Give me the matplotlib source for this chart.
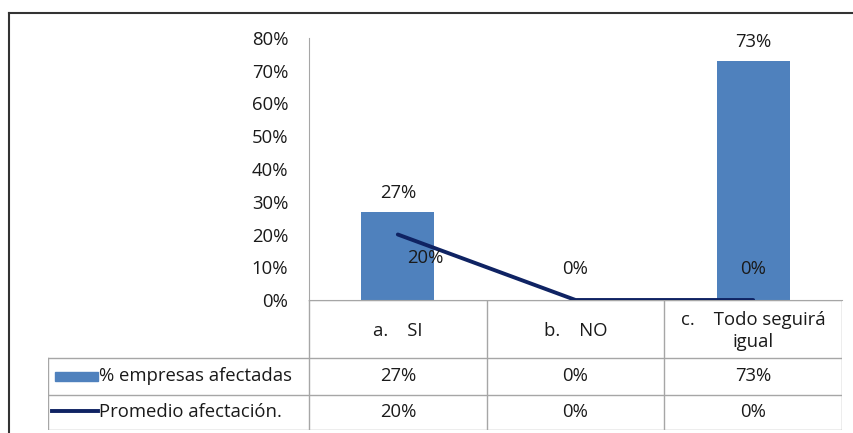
import matplotlib.pyplot as plt
from matplotlib.lines import Line2D
from matplotlib.patches import Rectangle

############################
# Data
############################

categories = ["a.    SI", "b.    NO", "c.    Todo seguirá\nigual"]
pct_empresas = [27, 0, 73]
promedio_afect = [20, 0, 0]
series_names = ["% empresas afectadas", "Promedio afectación."]
y_ticks = [0, 10, 20, 30, 40, 50, 60, 70, 80]

BAR_BLUE = "#4F81BD"
NAVY = "#0F2363"
GRID = "#A6A6A6"
TXT = "#1A1A1A"
FS = 13.3

W, H = 854, 433

plt.rcParams["font.family"] = ["Open Sans", "DejaVu Sans"]

fig = plt.figure(figsize=(W / 100, H / 100), dpi=100)


def px_rect(x0, y0, x1, y1):
    # pixel box (top-left origin) -> figure fraction
    return [x0 / W, 1 - y1 / H, (x1 - x0) / W, (y1 - y0) / H]


# outer frame (top + left)
fig.add_artist(Line2D([9 / W, 1], [1 - 13 / H, 1 - 13 / H], color="#333333", lw=1.5))
fig.add_artist(Line2D([9 / W, 9 / W], [0, 1 - 13 / H], color="#333333", lw=1.5))

############################
# Chart area
############################

ax = fig.add_axes(px_rect(309, 38, 842, 300))
x = list(range(len(categories)))

ax.bar(x, pct_empresas, width=0.41, color=BAR_BLUE, zorder=2)
ax.plot(x, promedio_afect, color=NAVY, lw=2.8, solid_capstyle="round", zorder=3)

ax.set_xlim(-0.5, 2.5)
ax.set_ylim(0, 80)
ax.set_yticks(y_ticks)
ax.set_yticklabels([f"{v}%" for v in y_ticks], fontsize=FS, color=TXT)
ax.tick_params(axis="y", length=0, pad=15)
ax.set_xticks([])

for s in ["top", "right"]:
    ax.spines[s].set_visible(False)
ax.spines["left"].set_color(GRID)
ax.spines["bottom"].set_color(GRID)

# data labels
for xi, v in zip(x, pct_empresas):
    if v > 0:
        ax.annotate(f"{v}%", (xi, v), xytext=(0, 7), textcoords="offset points",
                    ha="center", va="bottom", fontsize=FS, color=TXT)
ax.annotate(f"{promedio_afect[0]}%", (x[0], promedio_afect[0]), xytext=(20, -17),
            textcoords="offset points", ha="center", va="center", fontsize=FS, color=TXT, zorder=4)
for xi, v in zip(x[1:], promedio_afect[1:]):
    ax.annotate(f"{v}%", (xi, v), xytext=(0, 22), textcoords="offset points",
                ha="center", va="center", fontsize=FS, color=TXT)

############################
# Data table
############################

left_px = 48
unit = (842 - 309) / 3
tx0 = -0.5 - (309 - left_px) / unit

tab = fig.add_axes(px_rect(left_px, 300, 842, 430))
tab.set_xlim(tx0, 2.5)
tab.set_ylim(430, 300)
tab.axis("off")

row_tops = [300, 358, 395, 430]
# horizontal lines
tab.plot([-0.5, 2.5], [300, 300], color=GRID, lw=1)
for yy in row_tops[1:]:
    tab.plot([tx0, 2.5], [yy, yy], color=GRID, lw=1)
# vertical lines
for xv in [-0.5, 0.5, 1.5, 2.5]:
    tab.plot([xv, xv], [300, 430], color=GRID, lw=1)
tab.plot([tx0, tx0], [358, 430], color=GRID, lw=1)

for xi, cat in zip(x, categories):
    tab.text(xi, 331, cat, ha="center", va="center", fontsize=FS, color=TXT, linespacing=1.25)

for vals, yc in [(pct_empresas, 376.5), (promedio_afect, 412)]:
    for xi, v in zip(x, vals):
        tab.text(xi, yc, f"{v}%", ha="center", va="center", fontsize=FS, color=TXT)

# legend keys inside table
kx0 = tx0 + (55 - left_px) / unit
kx1 = tx0 + (98 - left_px) / unit
tab.add_patch(Rectangle((kx0, 372), kx1 - kx0, 9, color=BAR_BLUE))
tab.plot([tx0 + (52 - left_px) / unit, kx1], [411, 411], color=NAVY, lw=2.8)
tab.text(tx0 + (99 - left_px) / unit, 376.5, series_names[0], ha="left", va="center",
         fontsize=FS, color=TXT)
tab.text(tx0 + (99 - left_px) / unit, 412, series_names[1], ha="left", va="center",
         fontsize=FS, color=TXT)

fig.savefig("out.png", dpi=100)
